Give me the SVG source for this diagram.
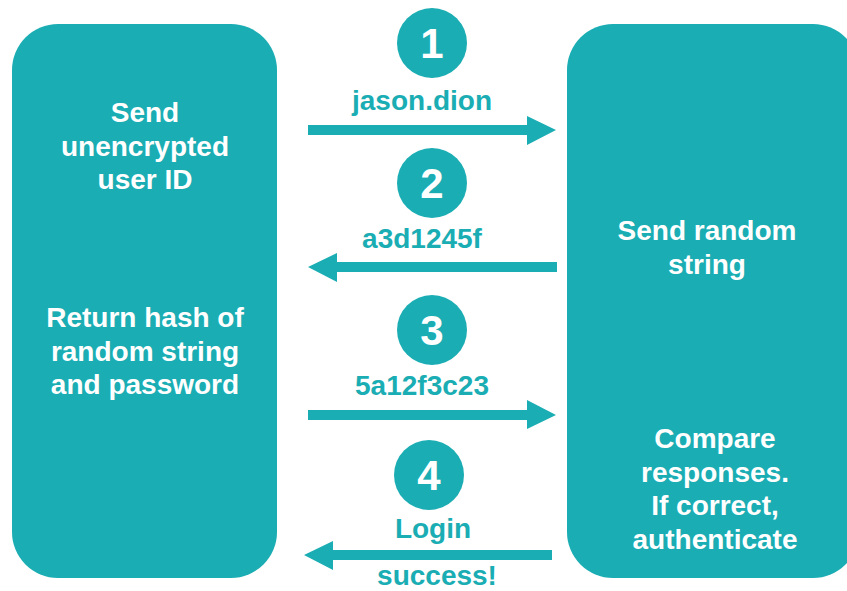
<svg xmlns="http://www.w3.org/2000/svg" width="847" height="591" viewBox="0 0 847 591">
<style>
.box{fill:#1AADB3}
.circ{fill:#1AADB3}
.wt{fill:#FFFFFF;font-family:"Liberation Sans",Arial,sans-serif;font-weight:bold;font-size:28px;text-anchor:middle}
.num{fill:#FFFFFF;font-family:"Liberation Sans",Arial,sans-serif;font-weight:bold;font-size:42px;text-anchor:middle}
.lbl{fill:#1AADB3;font-family:"Liberation Sans",Arial,sans-serif;font-weight:bold;font-size:28px;text-anchor:middle}
.arr{fill:#1AADB3}
</style>
<rect width="847" height="591" fill="#FFFFFF"/>
<g id="client">
<rect class="box" x="12" y="24" width="265" height="554" rx="46" ry="46"/>
<text class="wt" x="145" y="122">Send</text>
<text class="wt" x="145" y="156">unencrypted</text>
<text class="wt" x="145" y="189">user ID</text>
<text class="wt" x="145" y="327">Return hash of</text>
<text class="wt" x="145" y="361">random string</text>
<text class="wt" x="145" y="394">and password</text>
</g>
<g id="server">
<rect class="box" x="567" y="24" width="292" height="554" rx="46" ry="46"/>
<text class="wt" x="707" y="240">Send random</text>
<text class="wt" x="707" y="274">string</text>
<text class="wt" x="715" y="448">Compare</text>
<text class="wt" x="715" y="482">responses.</text>
<text class="wt" x="715" y="515">If correct,</text>
<text class="wt" x="715" y="549">authenticate</text>
</g>
<g id="step1">
<circle class="circ" cx="432" cy="43" r="35"/>
<text class="num" x="432" y="58">1</text>
</g>
<g id="step2">
<circle class="circ" cx="432" cy="183" r="35"/>
<text class="num" x="432" y="198">2</text>
</g>
<g id="step3">
<circle class="circ" cx="432" cy="330" r="35"/>
<text class="num" x="432" y="345">3</text>
</g>
<g id="step4">
<circle class="circ" cx="429" cy="475" r="35"/>
<text class="num" x="429" y="490">4</text>
</g>
<g id="connectors">
<polygon class="arr" points="308,125 527,125 527,116 556,130 527,145 527,135 308,135"/>
<text class="lbl" x="422" y="110">jason.dion</text>
<polygon class="arr" points="557,262 337,262 337,253 308,267 337,282 337,272 557,272"/>
<text class="lbl" x="422" y="248">a3d1245f</text>
<polygon class="arr" points="308,410 527,410 527,400 556,415 527,429 527,420 308,420"/>
<text class="lbl" x="422" y="395">5a12f3c23</text>
<polygon class="arr" points="552,550 333,550 333,541 304,555 333,570 333,560 552,560"/>
<text class="lbl" x="433" y="538">Login</text>
<text class="lbl" x="437" y="585">success!</text>
</g>
</svg>
